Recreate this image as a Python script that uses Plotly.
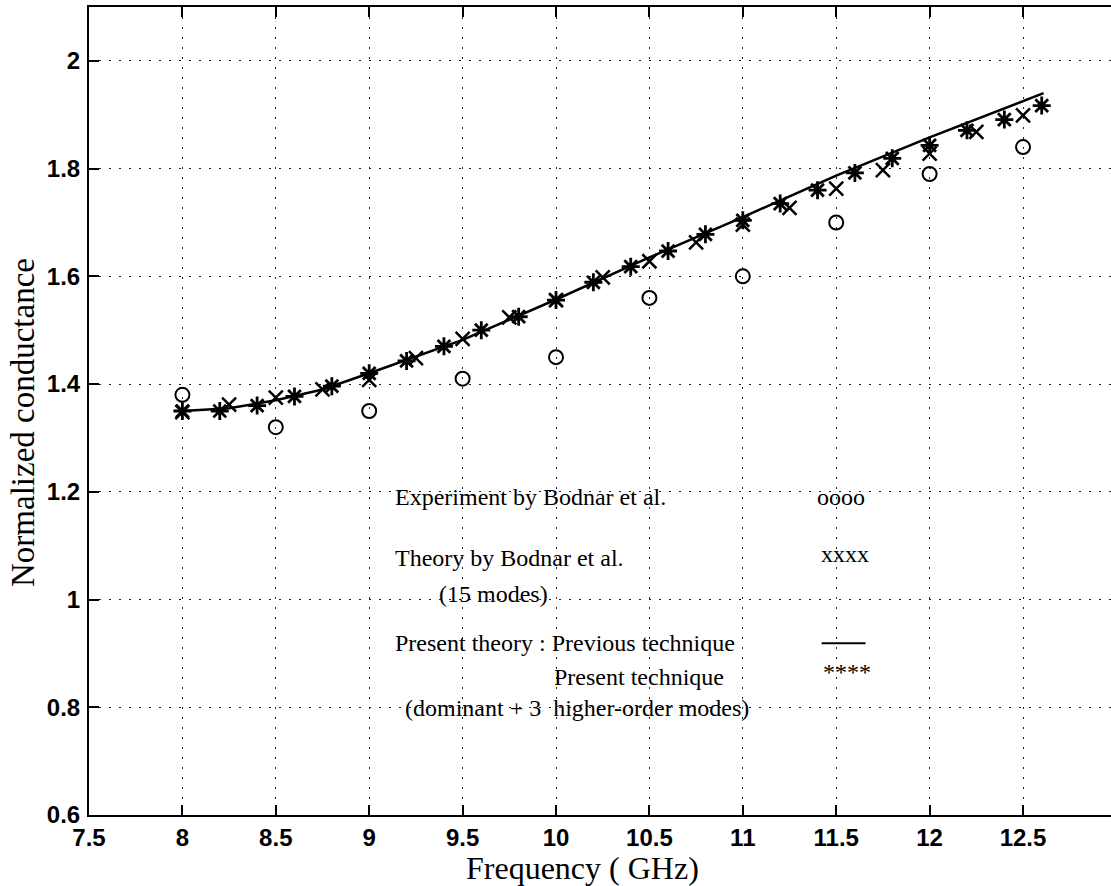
import plotly.graph_objects as go

# ---- data ----
exp_freq = [8, 8.5, 9, 9.5, 10, 10.5, 11, 11.5, 12, 12.5]
exp_g = [1.38, 1.32, 1.35, 1.41, 1.45, 1.56, 1.60, 1.70, 1.79, 1.84]

bod_freq = [8, 8.25, 8.5, 8.75, 9, 9.25, 9.5, 9.75, 10, 10.25, 10.5, 10.75,
            11, 11.25, 11.5, 11.75, 12, 12.25, 12.5]
bod_g = [1.348, 1.362, 1.375, 1.39, 1.408, 1.448, 1.484, 1.524, 1.556, 1.598,
         1.628, 1.663, 1.696, 1.727, 1.763, 1.797, 1.828, 1.868, 1.899]

prev_freq = [8, 8.25, 8.5, 8.75, 9, 9.5, 10, 10.5, 11, 11.5, 12, 12.5, 12.61]
prev_g = [1.35, 1.355, 1.37, 1.39, 1.42, 1.482, 1.557, 1.635, 1.71, 1.787,
          1.858, 1.926, 1.94]

pres_freq = [8, 8.2, 8.4, 8.6, 8.8, 9, 9.2, 9.4, 9.6, 9.8, 10, 10.2, 10.4,
             10.6, 10.8, 11, 11.2, 11.4, 11.6, 11.8, 12, 12.2, 12.4, 12.6]
pres_g = [1.35, 1.35, 1.36, 1.377, 1.396, 1.42, 1.443, 1.47, 1.50, 1.525,
          1.556, 1.589, 1.618, 1.647, 1.678, 1.704, 1.735, 1.76, 1.792, 1.819,
          1.843, 1.871, 1.891, 1.917]

x_ticks = [7.5, 8, 8.5, 9, 9.5, 10, 10.5, 11, 11.5, 12, 12.5]
x_tick_text = ["7.5", "8", "8.5", "9", "9.5", "10", "10.5", "11", "11.5", "12", "12.5"]
y_ticks = [0.6, 0.8, 1.0, 1.2, 1.4, 1.6, 1.8, 2.0]
y_tick_text = ["0.6", "0.8", "1", "1.2", "1.4", "1.6", "1.8", "2"]

SERIF = "Liberation Serif, Times New Roman, serif"
SANS = "Liberation Sans, Arial, sans-serif"

fig = go.Figure()
fig.add_trace(go.Scatter(x=prev_freq, y=prev_g, mode="lines",
                         line=dict(color="black", width=2.5), showlegend=False))
fig.add_trace(go.Scatter(x=exp_freq, y=exp_g, mode="markers",
                         marker=dict(symbol="circle-open", size=14, color="black",
                                     line=dict(color="black", width=2)),
                         showlegend=False))
fig.add_trace(go.Scatter(x=bod_freq, y=bod_g, mode="markers",
                         marker=dict(symbol="x-thin-open", size=14, color="black",
                                     line=dict(color="black", width=2.5)),
                         showlegend=False))
fig.add_trace(go.Scatter(x=pres_freq, y=pres_g, mode="markers",
                         marker=dict(symbol="asterisk-open", size=15, color="black",
                                     line=dict(color="black", width=2.8)),
                         showlegend=False))

axis_common = dict(
    showline=True, linecolor="black", linewidth=2,
    ticks="inside", ticklen=10, tickwidth=1.5, tickcolor="black",
    showgrid=True, gridcolor="#222222", gridwidth=1.2, griddash="1.5px,8.5px",
    zeroline=False,
    tickfont=dict(family=SANS, size=24, color="black", weight="bold"),
)

fig.update_xaxes(range=[7.5, 12.971], tickvals=x_ticks, ticktext=x_tick_text,
                 mirror="ticks", ticklabelstandoff=0, **axis_common)
fig.update_yaxes(range=[0.6, 2.1], tickvals=y_ticks, ticktext=y_tick_text,
                 mirror=False, ticklabelstandoff=2, **axis_common)

annotations = [
    dict(text="Frequency ( GHz)", xref="paper", yref="paper", x=0.4824, y=-0.0655,
         xanchor="center", yanchor="middle", showarrow=False,
         font=dict(family=SERIF, size=32, color="black")),
    dict(text="Normalized conductance", xref="paper", yref="paper", x=-0.0646, y=0.4864,
         xanchor="center", yanchor="middle", textangle=-90, showarrow=False,
         font=dict(family=SERIF, size=33, color="black")),
]

legend_lines = [
    ("Experiment by Bodnar et al.", 9.126, 1.19),
    ("Theory by Bodnar et al.", 9.126, 1.077),
    ("(15 modes)", 9.363, 1.010),
    ("Present theory : Previous technique", 9.126, 0.919),
    ("Present technique", 9.977, 0.856),
    ("(dominant + 3  higher-order modes)", 9.180, 0.799),
]
for txt, fx, fy in legend_lines:
    annotations.append(dict(text=txt, x=fx, y=fy, xanchor="left", yanchor="middle",
                            showarrow=False,
                            font=dict(family=SERIF, size=24, color="black")))

symbols = [("oooo", 11.385, 1.19), ("xxxx", 11.41, 1.085), ("****", 11.42, 0.866)]
for txt, fx, fy in symbols:
    annotations.append(dict(text=txt, x=fx, y=fy, xanchor="left", yanchor="middle",
                            showarrow=False,
                            font=dict(family=SERIF, size=24, color="black")))

fig.update_layout(
    width=1111, height=886,
    margin=dict(l=89, r=0, t=7, b=71),
    paper_bgcolor="white", plot_bgcolor="white",
    showlegend=False,
    annotations=annotations,
    shapes=[dict(type="line", x0=11.422, x1=11.657, y0=0.919, y1=0.919,
                 xref="x", yref="y", line=dict(color="black", width=2))],
)

fig.write_html("out.html")
